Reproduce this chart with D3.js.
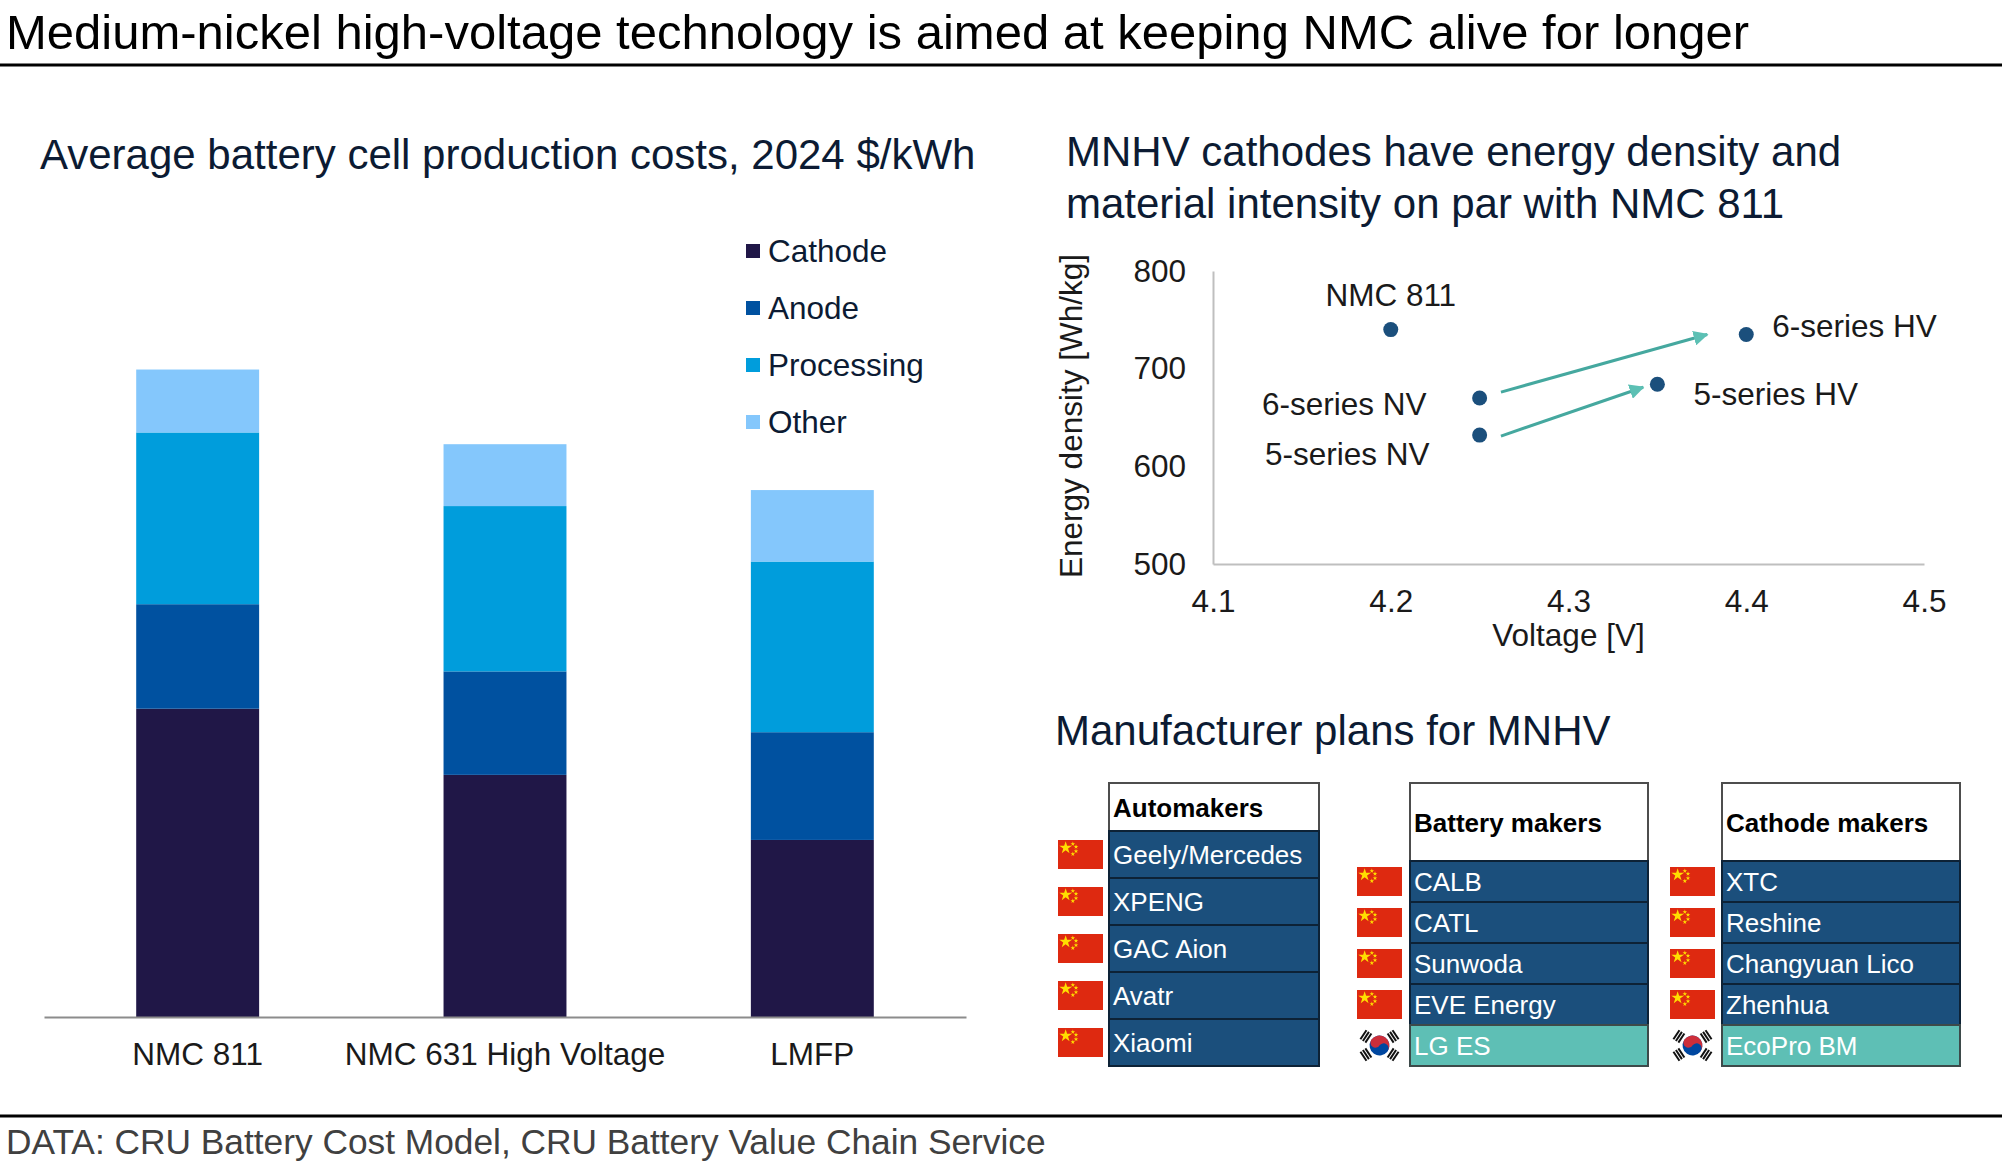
<!DOCTYPE html>
<html>
<head>
<meta charset="utf-8">
<title>Medium-nickel high-voltage technology</title>
<style>
  body { margin: 0; background: #fff; }
  svg { display: block; font-family: "Liberation Sans", Arial, sans-serif; }
  .axis text { fill: #1a1a1a; }
</style>
</head>
<body>
<div id="chart"></div>
<script src="https://d3js.org/d3.v7.min.js"></script>
<script>
// ---- bar chart: average cell production cost, 2024 $/kWh
var chemistries    = ["NMC 811", "NMC 631 High Voltage", "LMFP"];
var components     = ["Cathode", "Anode", "Processing", "Other"];
var cathodeCost    = [28.9, 22.7, 16.6];
var anodeCost      = [9.8, 9.7, 10.1];
var processingCost = [16.1, 15.5, 16.0];
var otherCost      = [5.9, 5.8, 6.7];

// ---- scatter: voltage vs energy density
var cathodeNames  = ["NMC 811", "6-series HV", "5-series HV", "6-series NV", "5-series NV"];
var voltages      = [4.2, 4.4, 4.35, 4.25, 4.25];
var energyDensity = [740, 735, 684, 670, 632];
var voltageTicks  = [4.1, 4.2, 4.3, 4.4, 4.5];
var densityTicks  = [500, 600, 700, 800];
var upgradeFrom   = [[4.262, 676], [4.262, 631]];
var upgradeTo     = [[4.378, 735], [4.342, 681]];

// ---- manufacturer tables
var automakers       = ["Geely/Mercedes", "XPENG", "GAC Aion", "Avatr", "Xiaomi"];
var automakerCountry = ["CN", "CN", "CN", "CN", "CN"];
var batteryMakers    = ["CALB", "CATL", "Sunwoda", "EVE Energy", "LG ES"];
var batteryCountry   = ["CN", "CN", "CN", "CN", "KR"];
var cathodeMakers    = ["XTC", "Reshine", "Changyuan Lico", "Zhenhua", "EcoPro BM"];
var cathodeCountry   = ["CN", "CN", "CN", "CN", "KR"];

var width = 2002, height = 1166;
var navy = "#0c1b33";
var compColor = d3.scaleOrdinal()
    .domain(components)
    .range(["#201747", "#0051a0", "#009ddc", "#84c7fc"]);

var svg = d3.select("#chart").append("svg")
    .attr("width", width)
    .attr("height", height);

// header + footer
svg.append("text")
    .attr("x", 6).attr("y", 49)
    .style("font-size", "49px")
    .style("fill", "#000")
    .text("Medium-nickel high-voltage technology is aimed at keeping NMC alive for longer");
svg.append("line")
    .attr("x1", 0).attr("x2", width).attr("y1", 65).attr("y2", 65)
    .style("stroke", "#000").style("stroke-width", 3);
svg.append("line")
    .attr("x1", 0).attr("x2", width).attr("y1", 1116).attr("y2", 1116)
    .style("stroke", "#000").style("stroke-width", 3);
svg.append("text")
    .attr("x", 6).attr("y", 1154)
    .style("font-size", "35.3px")
    .style("fill", "#404040")
    .text("DATA: CRU Battery Cost Model, CRU Battery Value Chain Service");

// ================= stacked bars =================
svg.append("text")
    .attr("x", 40).attr("y", 169)
    .style("font-size", "42px").style("fill", navy)
    .text("Average battery cell production costs, 2024 $/kWh");

var barRows = chemistries.map(function(c, i){
    return { name: c, Cathode: cathodeCost[i], Anode: anodeCost[i],
             Processing: processingCost[i], Other: otherCost[i] };
});
var stacked = d3.stack().keys(components)(barRows);

var xBar = d3.scaleBand()
    .domain(chemistries)
    .range([44, 966])
    .paddingInner(0.6)
    .paddingOuter(0.3);
var yBar = d3.scaleLinear()
    .domain([0, 70])
    .range([1017, 1017 - 70 / 0.09375]);

svg.append("g")
    .selectAll("g")
    .data(stacked)
    .enter().append("g")
    .style("fill", function(d){ return compColor(d.key); })
    .selectAll("rect")
    .data(function(d){ return d; })
    .enter().append("rect")
    .attr("x", function(d){ return xBar(d.data.name); })
    .attr("width", xBar.bandwidth())
    .attr("y", function(d){ return yBar(d[1]); })
    .attr("height", function(d){ return yBar(d[0]) - yBar(d[1]); });

var xBarAxis = svg.append("g")
    .attr("class", "axis")
    .attr("transform", "translate(0," + yBar(0) + ")")
    .call(d3.axisBottom(xBar).tickSize(0).tickPadding(26));
xBarAxis.select(".domain").style("stroke", "#8c8c8c").style("stroke-width", 2);
xBarAxis.selectAll("text").style("font-size", "31.5px").style("font-family", "Liberation Sans, Arial, sans-serif");

// legend
var legend = svg.append("g").selectAll("g")
    .data(components)
    .enter().append("g")
    .attr("transform", function(d, i){ return "translate(746," + (251 + i * 57) + ")"; });
legend.append("rect")
    .attr("x", 0).attr("y", -7).attr("width", 14).attr("height", 14)
    .style("fill", function(d){ return compColor(d); });
legend.append("text")
    .attr("x", 22).attr("y", 0).attr("dy", "0.35em")
    .style("font-size", "31.5px").style("fill", navy)
    .text(function(d){ return d; });

// ================= scatter =================
svg.append("text")
    .attr("x", 1066).attr("y", 166)
    .style("font-size", "42px").style("fill", navy)
    .text("MNHV cathodes have energy density and");
svg.append("text")
    .attr("x", 1066).attr("y", 218)
    .style("font-size", "42px").style("fill", navy)
    .text("material intensity on par with NMC 811");

var xSc = d3.scaleLinear().domain([4.1, 4.5]).range([1213, 1924]);
var ySc = d3.scaleLinear().domain([500, 800]).range([564, 271]);

var gx = svg.append("g").attr("class", "axis")
    .attr("transform", "translate(0," + ySc(500) + ")")
    .call(d3.axisBottom(xSc).tickValues(voltageTicks).tickFormat(d3.format(".1f")).tickSize(0).tickPadding(26));
var gy = svg.append("g").attr("class", "axis")
    .attr("transform", "translate(" + xSc(4.1) + ",0)")
    .call(d3.axisLeft(ySc).tickValues(densityTicks).tickSize(0).tickPadding(27));
[gx, gy].forEach(function(g){
    g.select(".domain").style("stroke", "#bfbfbf").style("stroke-width", 2);
    g.selectAll("text").style("font-size", "31.5px").style("font-family", "Liberation Sans, Arial, sans-serif");
});

svg.append("text")
    .attr("x", xSc(4.3)).attr("y", 646)
    .attr("text-anchor", "middle")
    .style("font-size", "31.5px").style("fill", "#1a1a1a")
    .text("Voltage [V]");
svg.append("text")
    .attr("transform", "translate(1082,416) rotate(-90)")
    .attr("text-anchor", "middle")
    .style("font-size", "31.5px").style("fill", "#1a1a1a")
    .text("Energy density [Wh/kg]");

// upgrade arrows
var defs = svg.append("defs");
defs.append("marker")
    .attr("id", "head")
    .attr("viewBox", "0 0 10 10")
    .attr("refX", 9).attr("refY", 5)
    .attr("markerWidth", 5).attr("markerHeight", 5)
    .attr("orient", "auto")
    .append("path")
    .attr("d", "M0,0 L10,5 L0,10 z")
    .style("fill", "#5cc0b4");

svg.append("g").selectAll("line")
    .data(upgradeFrom)
    .enter().append("line")
    .attr("x1", function(d){ return xSc(d[0]); })
    .attr("y1", function(d){ return ySc(d[1]); })
    .attr("x2", function(d, i){ return xSc(upgradeTo[i][0]); })
    .attr("y2", function(d, i){ return ySc(upgradeTo[i][1]); })
    .style("stroke", "#45a89f")
    .style("stroke-width", 3)
    .attr("marker-end", "url(#head)");

var points = cathodeNames.map(function(n, i){
    return { name: n, v: voltages[i], e: energyDensity[i] };
});
var labelPlace = {
    "NMC 811":     { dx: 0,   dy: -24, anchor: "middle" },
    "6-series HV": { dx: 26,  dy: 3,   anchor: "start" },
    "5-series HV": { dx: 36,  dy: 21,  anchor: "start" },
    "6-series NV": { dx: -53, dy: 17,  anchor: "end" },
    "5-series NV": { dx: -50, dy: 30,  anchor: "end" }
};

svg.append("g").selectAll("circle")
    .data(points)
    .enter().append("circle")
    .attr("cx", function(d){ return xSc(d.v); })
    .attr("cy", function(d){ return ySc(d.e); })
    .attr("r", 7.5)
    .style("fill", "#1b4f7c");

svg.append("g").selectAll("text")
    .data(points)
    .enter().append("text")
    .attr("x", function(d){ return xSc(d.v) + labelPlace[d.name].dx; })
    .attr("y", function(d){ return ySc(d.e) + labelPlace[d.name].dy; })
    .attr("text-anchor", function(d){ return labelPlace[d.name].anchor; })
    .style("font-size", "31.5px").style("fill", "#1a1a1a")
    .text(function(d){ return d.name; });

// ================= manufacturer tables =================
svg.append("text")
    .attr("x", 1055).attr("y", 745)
    .style("font-size", "42px").style("fill", navy)
    .text("Manufacturer plans for MNHV");

function chinaFlag(g, x, y, w, h) {
    g.append("rect").attr("x", x).attr("y", y).attr("width", w).attr("height", h)
        .style("fill", "#de2910");
    var star = d3.symbol().type(d3.symbolStar);
    g.append("path").attr("d", star.size(w * 1.1)())
        .attr("transform", "translate(" + (x + w * 0.17) + "," + (y + h * 0.27) + ")")
        .style("fill", "#ffde00");
    [[0.33, 0.1], [0.4, 0.2], [0.4, 0.35], [0.33, 0.45]].forEach(function(p){
        g.append("path").attr("d", star.size(w * 0.15)())
            .attr("transform", "translate(" + (x + w * p[0]) + "," + (y + h * p[1] + 1) + ")")
            .style("fill", "#ffde00");
    });
}

function koreaFlag(g, x, y, w, h) {
    var cx = x + w / 2, cy = y + h / 2, R = h * 0.3;
    var f = g.append("g");
    var t = f.append("g").attr("transform", "translate(" + cx + "," + cy + ") rotate(33.7)");
    t.append("circle").attr("r", R).style("fill", "#0047a0");
    t.append("path").attr("d", d3.arc()({ innerRadius: 0, outerRadius: R, startAngle: -Math.PI / 2, endAngle: Math.PI / 2 }))
        .style("fill", "#cd2e3a");
    t.append("circle").attr("cx", -R / 2).attr("r", R / 2).style("fill", "#cd2e3a");
    t.append("circle").attr("cx", R / 2).attr("r", R / 2).style("fill", "#0047a0");
    // trigrams on the diagonals
    [33.7, 146.3, 213.7, 326.3].forEach(function(a){
        var tg = f.append("g")
            .attr("transform", "translate(" + cx + "," + cy + ") rotate(" + (a - 90) + ")");
        for (var k = 0; k < 3; k++) {
            tg.append("rect")
                .attr("x", -R * 0.55).attr("y", -R * (1.45 + k * 0.3))
                .attr("width", R * 1.1).attr("height", R * 0.2)
                .style("fill", "#111");
        }
    });
}

function drawTable(title, names, countries, box) {
    var g = svg.append("g");
    g.append("rect")
        .attr("x", box.x).attr("y", box.y)
        .attr("width", box.w).attr("height", box.headH)
        .style("fill", "#fff").style("stroke", "#4d4d4d").style("stroke-width", 2);
    g.append("text")
        .attr("x", box.x + 4).attr("y", box.y + box.headH / 2 + 10)
        .style("font-size", "26px").style("font-weight", "bold").style("fill", "#000")
        .text(title);
    names.forEach(function(n, i){
        var ry = box.y + box.headH + i * box.rowH;
        var isKorea = countries[i] === "KR";
        g.append("rect")
            .attr("x", box.x).attr("y", ry)
            .attr("width", box.w).attr("height", box.rowH)
            .style("fill", isKorea ? "#5ebfb5" : "#1b4f7c")
            .style("stroke", isKorea ? "#3d4a4a" : "#0d2236").style("stroke-width", 2);
        g.append("text")
            .attr("x", box.x + 4).attr("y", ry + box.rowH / 2).attr("dy", "0.35em")
            .style("font-size", "26px").style("fill", "#fff")
            .text(n);
        var fh = 29, fw = 45;
        if (isKorea) koreaFlag(g, box.flagX, ry + box.rowH / 2 - fh / 2 - 2, fw, fh + 4);
        else chinaFlag(g, box.flagX, ry + box.rowH / 2 - fh / 2, fw, fh);
    });
}

drawTable("Automakers", automakers, automakerCountry,
    { x: 1109, y: 783, w: 210, headH: 48, rowH: 47, flagX: 1058 });
drawTable("Battery makers", batteryMakers, batteryCountry,
    { x: 1410, y: 783, w: 238, headH: 78, rowH: 41, flagX: 1357 });
drawTable("Cathode makers", cathodeMakers, cathodeCountry,
    { x: 1722, y: 783, w: 238, headH: 78, rowH: 41, flagX: 1670 });
</script>
</body>
</html>
